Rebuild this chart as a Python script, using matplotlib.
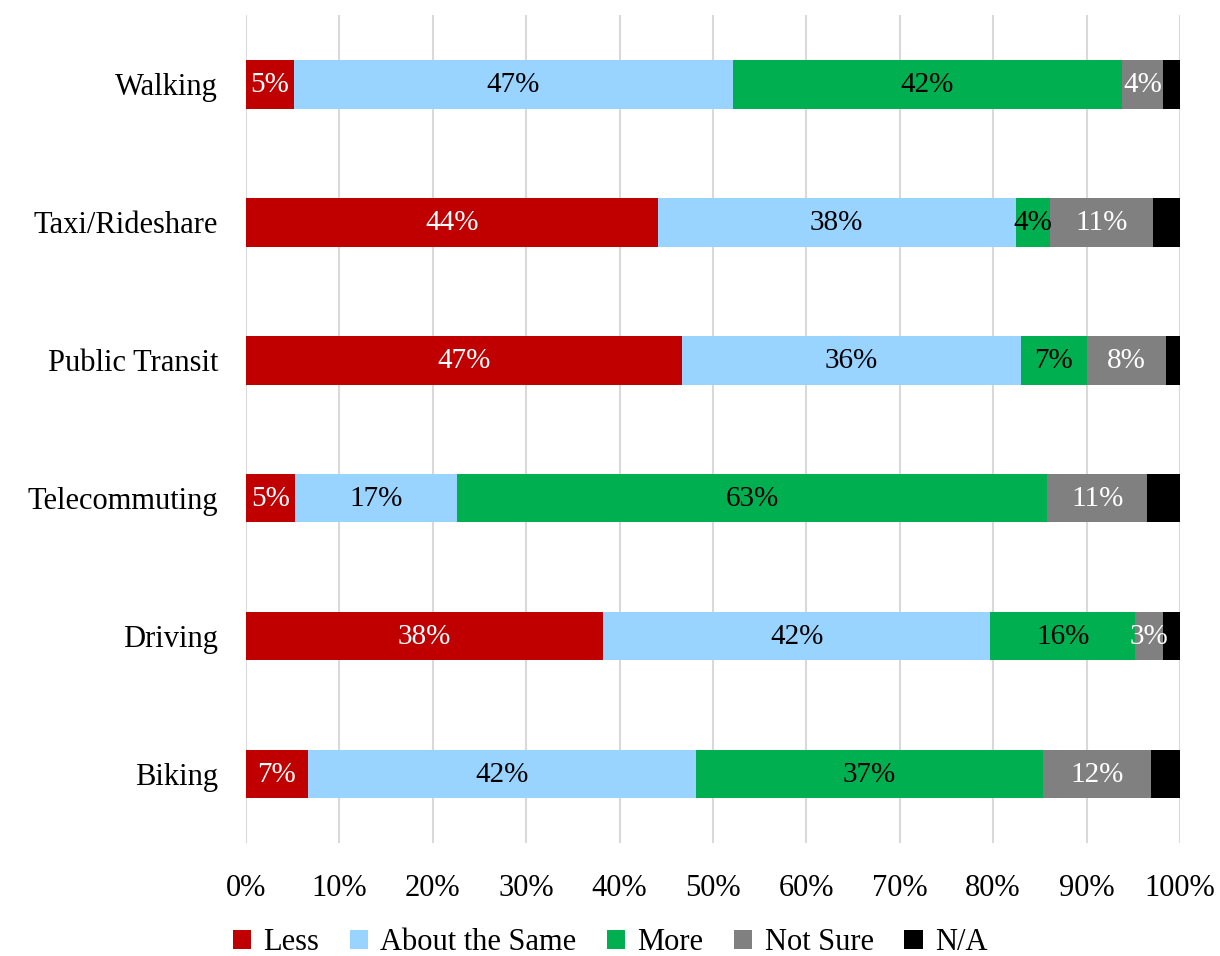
import matplotlib.pyplot as plt
import numpy as np

plt.rcParams['font.family'] = ['Liberation Serif', 'DejaVu Serif']

modes = ["Walking", "Taxi/Rideshare", "Public Transit", "Telecommuting", "Driving", "Biking"]
series = ["Less", "About the Same", "More", "Not Sure", "N/A"]

less = [5.1, 44.1, 46.7, 5.2, 38.2, 6.6]
same = [47.0, 38.3, 36.3, 17.4, 41.5, 41.6]
more = [41.7, 3.7, 7.0, 63.2, 15.5, 37.1]
not_sure = [4.4, 11.0, 8.5, 10.7, 3.0, 11.6]
n_a = [1.8, 2.9, 1.5, 3.5, 1.8, 3.1]

colors = ["#C00000", "#99D3FF", "#00B050", "#808080", "#000000"]
text_colors = ["white", "black", "black", "white", None]

fig = plt.figure(figsize=(12.2, 9.56), dpi=100)
ax = fig.add_axes([0.2016, 0.1182, 0.7656, 0.8661])

y = np.arange(len(modes))
left = np.zeros(len(modes))
for vals, name, col, tcol in zip([less, same, more, not_sure, n_a], series, colors, text_colors):
    vals = np.array(vals)
    ax.barh(y, vals, left=left, height=0.355, color=col, label=name, zorder=3)
    if tcol is not None:
        for yi, l, v in zip(y, left, vals):
            ax.text(l + v / 2, yi + 0.01, f"{round(v):.0f}%", ha='center', va='center',
                    color=tcol, fontsize=21, zorder=4)
    left += vals

ax.set_xlim(0, 100)
ax.set_ylim(len(modes) - 0.5, -0.5)
ax.set_yticks(y)
ax.set_yticklabels(modes, fontsize=22)
ax.set_xticks(np.arange(0, 101, 10))
ax.set_xticklabels([f"{t}%" for t in range(0, 101, 10)], fontsize=22)
ax.tick_params(length=0)
ax.tick_params(axis='y', pad=20)
ax.tick_params(axis='x', pad=22)
ax.grid(axis='x', color='#D9D9D9', linewidth=1.5, zorder=0)
for s in ax.spines.values():
    s.set_visible(False)

fig.legend(loc='center', ncol=5, frameon=False, fontsize=22,
           bbox_to_anchor=(0.5, 0.014), handlelength=0.6, handleheight=0.6,
           handletextpad=0.4, columnspacing=1.0)

fig.savefig("out.png", dpi=100)
